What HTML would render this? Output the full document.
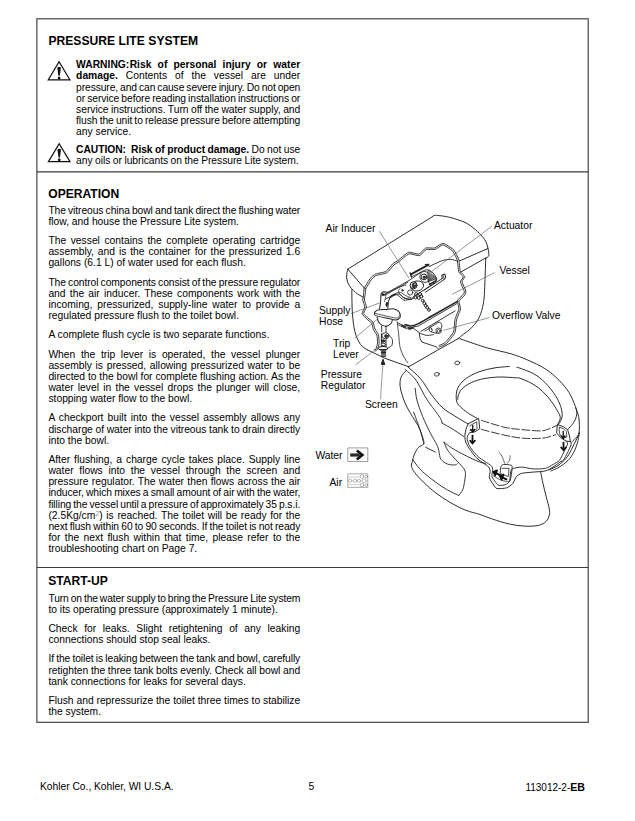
<!DOCTYPE html><html lang="en"><head><meta charset="utf-8"><title>Pressure Lite System</title><style>

html,body{margin:0;padding:0;background:#fff;}
body{width:635px;height:821px;position:relative;overflow:hidden;font-family:"Liberation Sans", Arial, Helvetica, sans-serif;color:#000;}
.l{position:absolute;white-space:nowrap;}
.l b{font-weight:bold;}
sup{font-size:7px;color:#999;vertical-align:baseline;position:relative;top:-3.2px;line-height:0;}
.bx{position:absolute;background:#555;}
svg{position:absolute;left:0;top:0;}
.sp{display:inline-block;width:0.4px;}

</style></head><body>
<svg width="635" height="821" viewBox="0 0 635 821"><g fill="none" stroke="#3c3c3c" stroke-width="1.15"><rect x="36.9" y="18.8" width="551.3" height="703.5"/><path d="M36.9 171.8H588.2M36.9 567.5H588.2"/></g></svg>
<div class="l" id="l0" style="left:48.50px;top:33.71px;font-size:12.1px;line-height:14.0px;font-weight:bold;word-spacing:0.206px;">PRESSURE LITE SYSTEM</div>
<div class="l" id="l1" style="left:48.30px;top:187.31px;font-size:12.1px;line-height:14.0px;font-weight:bold;letter-spacing:-0.011px;">OPERATION</div>
<div class="l" id="l2" style="left:48.30px;top:574.21px;font-size:12.1px;line-height:14.0px;font-weight:bold;letter-spacing:-0.010px;">START-UP</div>
<div class="l" id="l3" style="left:76.10px;top:59.33px;font-size:10.3px;line-height:12.0px;word-spacing:3.317px;"><b>WARNING:<span class="sp"></span>Risk of personal injury or water</b></div>
<div class="l" id="l4" style="left:76.10px;top:70.48px;font-size:10.3px;line-height:12.0px;word-spacing:5.105px;"><b>damage.</b> Contents of the vessel are under</div>
<div class="l" id="l5" style="left:76.10px;top:81.63px;font-size:10.3px;line-height:12.0px;word-spacing:-0.685px;letter-spacing:-0.110px;">pressure, and can cause severe injury. Do not open</div>
<div class="l" id="l6" style="left:76.10px;top:92.78px;font-size:10.3px;line-height:12.0px;word-spacing:-0.690px;letter-spacing:-0.077px;">or service before reading installation instructions or</div>
<div class="l" id="l7" style="left:76.10px;top:103.93px;font-size:10.3px;line-height:12.0px;word-spacing:-0.277px;letter-spacing:-0.037px;">service instructions. Turn off the water supply, and</div>
<div class="l" id="l8" style="left:76.10px;top:115.08px;font-size:10.3px;line-height:12.0px;word-spacing:-0.592px;letter-spacing:-0.080px;">flush the unit to release pressure before attempting</div>
<div class="l" id="l9" style="left:76.10px;top:126.23px;font-size:10.3px;line-height:12.0px;">any service.</div>
<div class="l" id="l10" style="left:76.10px;top:144.23px;font-size:10.3px;line-height:12.0px;word-spacing:-0.299px;letter-spacing:-0.054px;"><b>CAUTION:&nbsp; Risk of product damage.</b> Do not use</div>
<div class="l" id="l11" style="left:76.10px;top:155.38px;font-size:10.3px;line-height:12.0px;word-spacing:-0.295px;letter-spacing:-0.046px;">any oils or lubricants on the Pressure Lite system.</div>
<div class="l" id="l12" style="left:48.40px;top:204.73px;font-size:10.3px;line-height:12.0px;word-spacing:-0.575px;letter-spacing:-0.089px;">The vitreous china bowl and tank direct the flushing water</div>
<div class="l" id="l13" style="left:48.40px;top:215.88px;font-size:10.3px;line-height:12.0px;">flow, and house the Pressure Lite system.</div>
<div class="l" id="l14" style="left:48.40px;top:235.13px;font-size:10.3px;line-height:12.0px;word-spacing:1.709px;">The vessel contains the complete operating cartridge</div>
<div class="l" id="l15" style="left:48.40px;top:246.28px;font-size:10.3px;line-height:12.0px;word-spacing:1.020px;">assembly, and is the container for the pressurized 1.6</div>
<div class="l" id="l16" style="left:48.40px;top:257.43px;font-size:10.3px;line-height:12.0px;">gallons (6.1 L) of water used for each flush.</div>
<div class="l" id="l17" style="left:48.40px;top:276.68px;font-size:10.3px;line-height:12.0px;word-spacing:-0.616px;letter-spacing:-0.077px;">The control components consist of the pressure regulator</div>
<div class="l" id="l18" style="left:48.40px;top:287.83px;font-size:10.3px;line-height:12.0px;word-spacing:1.377px;">and the air inducer. These components work with the</div>
<div class="l" id="l19" style="left:48.40px;top:298.98px;font-size:10.3px;line-height:12.0px;word-spacing:1.998px;">incoming, pressurized, supply-line water to provide a</div>
<div class="l" id="l20" style="left:48.40px;top:310.13px;font-size:10.3px;line-height:12.0px;">regulated pressure flush to the toilet bowl.</div>
<div class="l" id="l21" style="left:48.40px;top:329.38px;font-size:10.3px;line-height:12.0px;">A complete flush cycle is two separate functions.</div>
<div class="l" id="l22" style="left:48.40px;top:348.63px;font-size:10.3px;line-height:12.0px;word-spacing:2.784px;">When the trip lever is operated, the vessel plunger</div>
<div class="l" id="l23" style="left:48.40px;top:359.78px;font-size:10.3px;line-height:12.0px;word-spacing:0.813px;">assembly is pressed, allowing pressurized water to be</div>
<div class="l" id="l24" style="left:48.40px;top:370.93px;font-size:10.3px;line-height:12.0px;word-spacing:-0.003px;">directed to the bowl for complete flushing action. As the</div>
<div class="l" id="l25" style="left:48.40px;top:382.08px;font-size:10.3px;line-height:12.0px;word-spacing:1.394px;">water level in the vessel drops the plunger will close,</div>
<div class="l" id="l26" style="left:48.40px;top:393.23px;font-size:10.3px;line-height:12.0px;">stopping water flow to the bowl.</div>
<div class="l" id="l27" style="left:48.40px;top:412.48px;font-size:10.3px;line-height:12.0px;word-spacing:1.284px;">A checkport built into the vessel assembly allows any</div>
<div class="l" id="l28" style="left:48.40px;top:423.63px;font-size:10.3px;line-height:12.0px;word-spacing:-0.161px;letter-spacing:-0.025px;">discharge of water into the vitreous tank to drain directly</div>
<div class="l" id="l29" style="left:48.40px;top:434.78px;font-size:10.3px;line-height:12.0px;">into the bowl.</div>
<div class="l" id="l30" style="left:48.40px;top:454.03px;font-size:10.3px;line-height:12.0px;word-spacing:1.067px;">After flushing, a charge cycle takes place. Supply line</div>
<div class="l" id="l31" style="left:48.40px;top:465.18px;font-size:10.3px;line-height:12.0px;word-spacing:2.856px;">water flows into the vessel through the screen and</div>
<div class="l" id="l32" style="left:48.40px;top:476.33px;font-size:10.3px;line-height:12.0px;word-spacing:0.450px;">pressure regulator. The water then flows across the air</div>
<div class="l" id="l33" style="left:48.40px;top:487.48px;font-size:10.3px;line-height:12.0px;word-spacing:-0.516px;letter-spacing:-0.089px;">inducer, which mixes a small amount of air with the water,</div>
<div class="l" id="l34" style="left:48.40px;top:498.63px;font-size:10.3px;line-height:12.0px;word-spacing:-0.638px;letter-spacing:-0.093px;">filling the vessel until a pressure of approximately 35 p.s.i.</div>
<div class="l" id="l35" style="left:48.40px;top:509.78px;font-size:10.3px;line-height:12.0px;word-spacing:0.790px;">(2.5Kg/cm<sup>2</sup>) is reached. The toilet will be ready for the</div>
<div class="l" id="l36" style="left:48.40px;top:520.93px;font-size:10.3px;line-height:12.0px;word-spacing:-0.503px;letter-spacing:-0.097px;">next flush within 60 to 90 seconds. If the toilet is not ready</div>
<div class="l" id="l37" style="left:48.40px;top:532.08px;font-size:10.3px;line-height:12.0px;word-spacing:1.541px;">for the next flush within that time, please refer to the</div>
<div class="l" id="l38" style="left:48.40px;top:543.23px;font-size:10.3px;line-height:12.0px;">troubleshooting chart on Page 7.</div>
<div class="l" id="l39" style="left:48.40px;top:592.63px;font-size:10.3px;line-height:12.0px;word-spacing:-0.726px;letter-spacing:-0.125px;">Turn on the water supply to bring the Pressure Lite system</div>
<div class="l" id="l40" style="left:48.40px;top:603.78px;font-size:10.3px;line-height:12.0px;">to its operating pressure (approximately 1 minute).</div>
<div class="l" id="l41" style="left:48.40px;top:623.03px;font-size:10.3px;line-height:12.0px;word-spacing:3.753px;">Check for leaks. Slight retightening of any leaking</div>
<div class="l" id="l42" style="left:48.40px;top:634.18px;font-size:10.3px;line-height:12.0px;">connections should stop seal leaks.</div>
<div class="l" id="l43" style="left:48.40px;top:653.43px;font-size:10.3px;line-height:12.0px;word-spacing:-0.547px;letter-spacing:-0.090px;">If the toilet is leaking between the tank and bowl, carefully</div>
<div class="l" id="l44" style="left:48.40px;top:664.58px;font-size:10.3px;line-height:12.0px;word-spacing:-0.152px;letter-spacing:-0.024px;">retighten the three tank bolts evenly. Check all bowl and</div>
<div class="l" id="l45" style="left:48.40px;top:675.73px;font-size:10.3px;line-height:12.0px;">tank connections for leaks for several days.</div>
<div class="l" id="l46" style="left:48.40px;top:694.98px;font-size:10.3px;line-height:12.0px;word-spacing:-0.002px;">Flush and repressurize the toilet three times to stabilize</div>
<div class="l" id="l47" style="left:48.40px;top:706.13px;font-size:10.3px;line-height:12.0px;">the system.</div>
<div class="l" id="l48" style="left:40.00px;top:781.33px;font-size:10.3px;line-height:12.0px;word-spacing:-0.111px;letter-spacing:-0.015px;">Kohler Co., Kohler, WI U.S.A.</div>
<div class="l" id="l49" style="left:308.60px;top:781.33px;font-size:10.3px;line-height:12.0px;">5</div>
<div class="l" id="l50" style="left:525.40px;top:781.43px;font-size:10.6px;line-height:12.0px;letter-spacing:0.002px;"><span style="font-size:10px">113012-2-</span><b>EB</b></div>
<div class="l" id="l51" style="left:325.60px;top:222.53px;font-size:10.3px;line-height:12.0px;">Air Inducer</div>
<div class="l" id="l52" style="left:494.00px;top:219.93px;font-size:10.3px;line-height:12.0px;">Actuator</div>
<div class="l" id="l53" style="left:499.50px;top:264.73px;font-size:10.3px;line-height:12.0px;">Vessel</div>
<div class="l" id="l54" style="left:492.00px;top:310.43px;font-size:10.3px;line-height:12.0px;">Overflow Valve</div>
<div class="l" id="l55" style="left:319.00px;top:305.23px;font-size:10.3px;line-height:12.0px;">Supply</div>
<div class="l" id="l56" style="left:319.00px;top:316.33px;font-size:10.3px;line-height:12.0px;">Hose</div>
<div class="l" id="l57" style="left:333.00px;top:337.93px;font-size:10.3px;line-height:12.0px;">Trip</div>
<div class="l" id="l58" style="left:333.00px;top:348.53px;font-size:10.3px;line-height:12.0px;">Lever</div>
<div class="l" id="l59" style="left:320.80px;top:369.33px;font-size:10.3px;line-height:12.0px;">Pressure</div>
<div class="l" id="l60" style="left:320.80px;top:380.13px;font-size:10.3px;line-height:12.0px;">Regulator</div>
<div class="l" id="l61" style="left:365.00px;top:399.23px;font-size:10.3px;line-height:12.0px;">Screen</div>
<div class="l" id="l62" style="left:315.40px;top:450.43px;font-size:10.3px;line-height:12.0px;">Water</div>
<div class="l" id="l63" style="left:329.50px;top:476.93px;font-size:10.3px;line-height:12.0px;">Air</div>
<svg width="635" height="821" viewBox="0 0 635 821" stroke-linecap="round" stroke-linejoin="round">
<path d="M347.8 269.1 L432.6 216.6" fill="none" stroke="#222" stroke-width="0.95" />
<path d="M432.6 216.6 C433 216.4 432.9 215.2 435.5 215.3 C438.1 215.4 445.2 216.2 449.6 217.3 C454 218.4 461.3 220.7 465 222.4 C468.7 224.1 471.6 226.6 474 228.5 C476.4 230.4 479.1 233.1 480.9 235 C482.7 236.9 484.6 239.3 485.7 241.3 C486.8 243.3 487.5 246.3 488 248.4 C488.5 250.5 489.1 254 488.8 255.5 C488.5 257 486.2 258.1 485.7 258.6" fill="none" stroke="#222" stroke-width="0.95" />
<path d="M347.8 269.1 L364.2 288" fill="none" stroke="#222" stroke-width="0.95" />
<path d="M347.8 269.1 C347.6 270.4 346.4 274.4 346.6 277 C346.8 279.6 347.5 282.4 349 285 C350.5 287.6 353.1 290.4 355.5 292.5 C357.9 294.6 362.2 296.5 363.5 297.3" fill="none" stroke="#222" stroke-width="0.95" />
<path d="M459.4 261 L488 248.4" fill="none" stroke="#222" stroke-width="0.95" />
<path d="M460.8 272 L486.4 257.6" fill="none" stroke="#222" stroke-width="0.95" />
<path d="M351.8 290 C351.9 293.8 351.9 306 352.4 313 C352.9 320 353.6 326.6 355 331.9 C356.4 337.1 358.4 341.5 360.5 344.5 C362.6 347.5 366.2 348.9 367.3 349.8" fill="none" stroke="#222" stroke-width="0.95" />
<path d="M367.3 349.8 L385 358.3 L408.7 366.8" fill="none" stroke="#222" stroke-width="0.95" />
<path d="M408.7 366.8 L437.3 350.3 L458.5 338.5" fill="none" stroke="#222" stroke-width="0.95" />
<path d="M485.7 258.6 C485.6 262.5 485.2 275.6 484.9 282.2 C484.6 288.8 484.6 293.3 484.1 298 C483.6 302.7 482.8 306.9 481.7 310.6 C480.6 314.3 479.5 317.1 477.8 320 C476.1 322.9 473.9 325.5 471.5 327.9 C469.1 330.3 465.8 332.5 463.6 334.2 C461.4 335.9 459.4 337.6 458.5 338.3" fill="none" stroke="#222" stroke-width="0.95" />
<path d="M364.2 288 C364.7 287.2 369.4 279.5 370.4 278.3 C371.3 277.1 374.3 274.6 375.6 274 C376.9 273.4 384.6 272.3 386 271.4 C387.4 270.5 392 264.5 392.9 263.6 C393.8 262.7 395.9 261.9 397.2 261 C398.5 260.1 406.7 252.9 408.5 252.3 C410.3 251.7 417.5 254.5 418.9 254.1 C420.3 253.7 424.5 248.5 425.8 248 C427.1 247.5 433.1 248.4 434.5 248 C435.9 247.6 441.5 243.2 443.1 243.3 C444.7 243.4 452.2 248.4 453.5 249.7 C454.8 251 458.1 257.5 458.7 259.3 C459.3 261.1 459.8 270 460.3 271.4 C460.8 272.8 464.7 275.7 464.8 276.6 C464.9 277.5 461.9 280.6 462 281.8 C462.1 283 465.7 289.9 465.9 291 C466.1 292.1 465 294.8 464.4 295.6 C463.8 296.4 459.2 300 458.9 301.1 C458.6 302.2 460.7 307.4 460.5 309 C460.3 310.6 457 318 456.5 320 C456 322 455.9 330.6 455 332.6 C454.1 334.6 447.6 342.5 446.3 343.7 C445 344.9 440.1 346.7 439.5 347" fill="none" stroke="#222" stroke-width="0.9" />
<path d="M365.5 288.9 C366.1 288.1 370.7 280.4 371.6 279.3 C372.5 278.2 375 276 376.2 275.5 C377.5 274.9 385.3 273.7 386.8 272.8 C388.3 271.9 393 265.6 394 264.8 C394.9 263.9 396.9 263.2 398.1 262.3 C399.4 261.4 407.2 254.4 409 253.8 C410.7 253.3 417.8 256 419.3 255.7 C420.7 255.3 425.1 250 426.4 249.5 C427.7 249 433.5 249.9 434.9 249.5 C436.3 249.2 441.5 244.8 443 244.9 C444.4 245 451.2 249.6 452.4 250.8 C453.5 252.1 456.6 258 457.2 259.8 C457.7 261.5 458.3 270.5 458.8 271.9 C459.3 273.4 463.1 276 463.2 276.9 C463.4 277.7 460.3 280.7 460.4 281.9 C460.5 283.1 464.1 290.2 464.3 291.3 C464.5 292.3 463.7 293.9 463.1 294.7 C462.5 295.5 457.7 299.5 457.4 300.7 C457 301.8 459.1 307.2 458.9 308.8 C458.7 310.4 455.4 317.7 454.9 319.6 C454.5 321.6 454.3 330.1 453.5 332 C452.7 333.9 446.4 341.4 445.2 342.5 C444 343.7 439.3 345.3 438.8 345.6" fill="none" stroke="#222" stroke-width="0.9" />
<path d="M364.2 288 C364.1 288.7 363.6 293.7 363.5 294.9 C363.4 296.1 362.7 299 362.8 300.2 C362.9 301.4 364.9 305.6 364.8 306.9 C364.7 308.2 361.9 312.4 362.1 313.6 C362.3 314.8 365.9 318.1 366.8 319 C367.7 319.9 370.8 321.9 371.5 323 C372.2 324.1 373 328.5 373.5 329.7 C374 330.9 376.5 333.8 376.9 335.1 C377.3 336.4 377.6 341.8 377.5 343.1 C377.4 344.4 376.5 347.8 376.2 348.5 C375.9 349.2 374.4 349.7 374.2 349.8" fill="none" stroke="#222" stroke-width="0.9" />
<path d="M365.8 288.2 C365.7 288.9 365.2 293.9 365.1 295.1 C364.9 296.3 364.3 298.8 364.4 300 C364.5 301.2 366.5 305.7 366.4 307 C366.3 308.3 363.5 312.3 363.7 313.3 C363.8 314.4 367 317 367.9 317.9 C368.8 318.7 372.2 321 372.9 322.2 C373.6 323.3 374.4 327.8 375 329 C375.5 330.3 378 333.2 378.4 334.6 C378.8 336.1 379.2 341.7 379.1 343.2 C379 344.6 378 348.4 377.6 349.2 C377.2 350 375.3 350.9 375.1 351.1" fill="none" stroke="#222" stroke-width="0.9" />
<path d="M412.1 327.4 L419.2 332.6 L420.1 338.8 L422 342.1 L436.2 346.8 L438.5 349" fill="none" stroke="#222" stroke-width="0.9" />
<path d="M397.2 322 C397.4 323.9 398.1 329.5 398.6 333.7 C399.1 337.9 399.2 343.5 400.1 347.4 C401 351.3 402.7 354.5 404 357.1 C405.3 359.7 407.2 362 407.9 363" fill="none" stroke="#222" stroke-width="0.78" />
<path d="M429 266.6 C431.1 265.7 438 262.1 441.6 260.9 C445.2 259.7 447.8 259.4 450.4 259.4 C453 259.4 455.9 260.7 457 261" fill="none" stroke="#222" stroke-width="0.9" />
<path d="M405 324.6 C405.7 324.8 409.3 326.1 410.7 326 C412.1 325.9 415 325.2 417.3 324.1 C419.6 323.1 428.5 317.8 430 317" fill="none" stroke="#222" stroke-width="1.46" />
<path d="M430 317 L457.5 301.4" fill="none" stroke="#222" stroke-width="1.46" />
<path d="M412.1 327.4 L418.2 326 L456.5 303.8" fill="none" stroke="#222" stroke-width="0.9" />
<path d="M421.1 331.2 L455.1 310.9" fill="none" stroke="#222" stroke-width="0.9" />
<path d="M397.2 322.5 C398.3 323.1 401.7 325 404 325.9 C406.3 326.8 409 327.9 410.8 327.9 C412.6 327.9 414.3 326.2 415 325.9" fill="none" stroke="#222" stroke-width="0.9" />
<path d="M398 324.5 C399 325 401.9 326.8 404 327.7 C406.1 328.6 409.4 329.3 410.5 329.6" fill="none" stroke="#222" stroke-width="0.78" />
<path d="M402 325.5 L405 327" fill="none" stroke="#222" stroke-width="1.79" />
<path d="M409 328.3 L412 328.2" fill="none" stroke="#222" stroke-width="1.79" />
<path d="M436.2 323.3 C436.8 323.1 439 321.8 440 322.2 C440.9 322.6 441.6 324.5 441.9 325.5 C442.1 326.5 441.4 327.9 441.3 328.4" fill="none" stroke="#222" stroke-width="0.9" />
<path d="M430 327.4 L436.4 323.6" fill="none" stroke="#222" stroke-width="0.9" />
<path d="M431.3 331.8 L436.9 333.5" fill="none" stroke="#222" stroke-width="0.9" />
<ellipse cx="430.5" cy="329.5" rx="1.4" ry="2.4" fill="#fff" stroke="#222" stroke-width="0.8" transform="rotate(-20 430.5 329.5)"/>
<circle cx="438.6" cy="330.7" r="2.7" fill="#fff" stroke="#222" stroke-width="0.9"/>
<circle cx="438.7" cy="330.9" r="1.4" fill="#fff" stroke="#222" stroke-width="0.7"/>
<path d="M424.8 330.7 L430 328.4" fill="none" stroke="#222" stroke-width="0.78" />
<path d="M419.7 333.1 C420.8 333.5 424.5 335.2 426.7 335.4 C429 335.7 432.3 334.7 433.4 334.5" fill="none" stroke="#222" stroke-width="0.9" />
<path d="M382 295.9 C383.3 295.2 392.2 290 395 288.4 C397.8 286.8 407.6 281.4 410.2 279.7 C412.8 278.1 419.4 273.1 421 272.1 C422.6 271.1 425.2 269.8 426.2 269.7 C427.1 269.6 429.6 270.2 430.5 270.8 C431.4 271.4 434.2 274.8 434.8 275.6 C435.5 276.4 436.6 278.6 436.7 278.9" fill="none" stroke="#222" stroke-width="0.9" />
<path d="M384.6 295.5 L395 289.6 L408 282.2" fill="none" stroke="#222" stroke-width="0.78" />
<path d="M436.7 278.9 C436.6 279.2 436.5 281 435.7 281.8 C434.9 282.7 431.1 285 429.6 286 C428.2 287 425.5 289.1 423.6 290.3 C421.7 291.5 415 295.4 413.6 296.4 C412.2 297.4 412.6 298.6 411.5 299 C410.3 299.4 405.4 300.5 403.7 300 C401.9 299.5 398.3 294.9 396.7 294.6 C395.1 294.4 390.6 297.7 389.8 298.1" fill="none" stroke="#222" stroke-width="0.9" />
<path d="M400.2 288.6 C399.9 288.9 398.5 289.5 398.5 290.5 C398.5 291.5 399.2 293.4 400.2 294.6 C401.2 295.9 402.7 297.6 404.5 298.1 C406.3 298.7 409.9 298 411 297.9" fill="none" stroke="#222" stroke-width="0.78" />
<path d="M395 294 L385.5 299.2" fill="none" stroke="#222" stroke-width="0.9" />
<ellipse cx="417.1" cy="286" rx="6.6" ry="5" fill="none" stroke="#222" stroke-width="0.9" transform="rotate(-12 417.1 286)"/>
<circle cx="413.6" cy="285.3" r="3.5" fill="#fff" stroke="#222" stroke-width="1.0"/>
<ellipse cx="413.9" cy="285.6" rx="1.9" ry="2.6" fill="#333" stroke="#222" stroke-width="0.6"/>
<circle cx="415.1" cy="284.3" r="1" fill="#fff" stroke="#222" stroke-width="0.5"/>
<circle cx="410.2" cy="292.5" r="2.6" fill="#fff" stroke="#222" stroke-width="0.8"/>
<circle cx="402.4" cy="290.3" r="0.9" fill="#222" stroke="#222" stroke-width="0.5"/>
<ellipse cx="424.9" cy="276.9" rx="4.9" ry="5.6" fill="none" stroke="#222" stroke-width="0.8" transform="rotate(-20 424.9 276.9)"/>
<circle cx="424" cy="276.9" r="2.9" fill="#fff" stroke="#222" stroke-width="1.0"/>
<circle cx="424.3" cy="277.3" r="1.4" fill="#333" stroke="#222" stroke-width="0.5"/>
<path d="M428.3 270.6 L433.1 273 L436.2 277.3 L435.7 280.8 L429.8 284.4 L427.9 280.1Z" fill="#fff" stroke="#222" stroke-width="0.78" />
<path d="M429 272.1 L428.4 281.7" fill="none" stroke="#222" stroke-width="0.84" />
<path d="M430.1 273 L429.5 281.3" fill="none" stroke="#222" stroke-width="0.84" />
<path d="M431.2 273.9 L430.5 281" fill="none" stroke="#222" stroke-width="0.84" />
<path d="M432.3 274.7 L431.6 280.6" fill="none" stroke="#222" stroke-width="0.84" />
<path d="M433.5 275.6 L432.6 280.3" fill="none" stroke="#222" stroke-width="0.84" />
<path d="M434.6 276.5 L433.6 279.9" fill="none" stroke="#222" stroke-width="0.84" />
<path d="M435.7 277.3 L434.7 279.6" fill="none" stroke="#222" stroke-width="0.84" />
<path d="M429.6 284.4 L435.7 280.8" fill="none" stroke="#222" stroke-width="1.34" />
<path d="M410.8 274.4 L428.3 264.9" fill="none" stroke="#222" stroke-width="1.79" />
<path d="M410.2 273 L411.5 277" fill="none" stroke="#222" stroke-width="1.34" />
<path d="M425.3 264.5 L429 264.3" fill="none" stroke="#222" stroke-width="1.12" />
<path d="M412 276.6 L421 272.1" fill="none" stroke="#222" stroke-width="0.78" />
<path d="M423.6 290.5 L442.2 278.6" fill="none" stroke="#222" stroke-width="0.95" />
<path d="M425.5 292.2 L443.9 279.7" fill="none" stroke="#222" stroke-width="0.95" />
<path d="M442.2 278.6 L441.8 275.2 L444.7 273.9 L445.8 277.3 L443.9 279.7" fill="none" stroke="#222" stroke-width="1.01" />
<path d="M443.2 275.6 L444 278.4" fill="none" stroke="#222" stroke-width="0.78" />
<circle cx="416.2" cy="294.2" r="1.6" fill="none" stroke="#222" stroke-width="0.95"/>
<circle cx="420.1" cy="294.2" r="1.6" fill="none" stroke="#222" stroke-width="0.95"/>
<circle cx="415.4" cy="297.4" r="1.6" fill="none" stroke="#222" stroke-width="0.95"/>
<circle cx="418.8" cy="297.8" r="1.6" fill="none" stroke="#222" stroke-width="0.95"/>
<circle cx="421.2" cy="296.4" r="1.6" fill="none" stroke="#222" stroke-width="0.95"/>
<circle cx="422.7" cy="300.7" r="1.4" fill="none" stroke="#222" stroke-width="0.95"/>
<circle cx="424.4" cy="303.3" r="1.4" fill="none" stroke="#222" stroke-width="0.95"/>
<circle cx="425.7" cy="305.7" r="1.4" fill="none" stroke="#222" stroke-width="0.95"/>
<circle cx="427.2" cy="307.8" r="1.4" fill="none" stroke="#222" stroke-width="0.95"/>
<circle cx="429" cy="309.9" r="1.4" fill="none" stroke="#222" stroke-width="0.95"/>
<path d="M388.4 292.3 C387.6 292.2 384.7 291.5 383.5 291.8 C382.3 292.1 381.6 292.3 381.1 294 C380.6 295.6 380.8 299.1 380.6 301.6 C380.4 304 379.8 307.4 379.6 308.6" fill="none" stroke="#222" stroke-width="1.01" />
<path d="M394.2 294.3 C393.8 294.5 392.3 294.7 391.3 295.9 C390.3 297.1 389 299.5 388.4 301.6 C387.8 303.6 388 307.1 387.9 308.2" fill="none" stroke="#222" stroke-width="1.01" />
<path d="M383.5 291.8 C383.9 292.3 385.8 293.1 386 294.7 C386.1 296.4 384.7 300.4 384.5 301.6" fill="none" stroke="#222" stroke-width="0.67" />
<path d="M386.9 303 L386.6 306" fill="none" stroke="#222" stroke-width="1.68" />
<path d="M385.8 304.3 L387 302.5 L388 304.5" fill="none" stroke="#222" stroke-width="1.01" />
<circle cx="383" cy="294.6" r="1.1" fill="#333" stroke="#222" stroke-width="0.6"/>
<path d="M388.4 292.3 C389.9 291.6 394.2 289.1 397.2 287.9 C400.1 286.7 404.5 285.5 405.9 285" fill="none" stroke="#222" stroke-width="0.9" />
<path d="M391.3 295.9 C392.6 295.6 397 293.7 399.1 294 C401.2 294.3 402 296.7 404 297.7 C405.9 298.6 409 299.8 410.8 299.6 C412.6 299.5 414.3 297.2 415 296.7" fill="none" stroke="#222" stroke-width="0.9" />
<path d="M394.2 294.3 C395.2 293.9 398.1 292.1 400.1 292.3 C402 292.6 404.1 294.8 405.9 295.7 C407.7 296.6 410 297.3 410.8 297.7" fill="none" stroke="#222" stroke-width="0.78" />
<path d="M374.7 312.3 C375.1 312 376.2 310.2 377.7 309.9 C379.2 309.5 383.7 309.5 386 309.4 C388.2 309.2 392.6 308.6 394.2 308.9 C395.9 309.1 397.8 310.6 398.6 311.3 C399.4 312 399.9 313.8 400.1 314.2" fill="none" stroke="#222" stroke-width="1.01" />
<path d="M374.7 312.3 C374.8 312.6 374.1 314.8 375.2 315.4 C376.4 316 383.9 317.5 386 317.9 C388.1 318.4 394.8 320.1 396.2 320.1 C397.6 320 399.7 317.9 400.1 317.4 C400.5 316.8 400.1 314.6 400.1 314.2" fill="none" stroke="#222" stroke-width="1.01" />
<path d="M375.5 313.5 C376.6 313.7 383.8 315.5 386 316 C388.1 316.5 395.3 318.2 396.7 318.1 C398.1 318.1 399.6 315.7 399.9 315.4" fill="none" stroke="#222" stroke-width="0.78" />
<path d="M377.2 317.2 C377.4 318 377.8 320.7 378.6 322 C379.5 323.4 381.1 324.8 382.5 325.4 C384 326.1 386 326.3 387.4 325.9 C388.9 325.5 390.5 324 391.3 323 C392.1 322 392.1 320.6 392.3 320.1" fill="none" stroke="#222" stroke-width="1.01" />
<path d="M381.6 325.9 L381.8 331.8" fill="none" stroke="#222" stroke-width="0.9" />
<path d="M386 326.1 L386 331.8" fill="none" stroke="#222" stroke-width="0.9" />
<ellipse cx="385.5" cy="335.7" rx="3.6" ry="3" fill="#fff" stroke="#222" stroke-width="0.9"/>
<circle cx="386.1" cy="336.1" r="1.6" fill="#333" stroke="#222" stroke-width="0.6"/>
<path d="M389.4 335.7 C389.9 336.3 391.9 338 392.3 339.6 C392.7 341.2 392.6 344 391.8 345.4 C391 346.9 388.1 347.9 387.4 348.4" fill="none" stroke="#222" stroke-width="0.9" />
<path d="M381.4 333.7 L381.4 347.4" fill="none" stroke="#222" stroke-width="1.01" />
<path d="M386 339.6 L386 347.4" fill="none" stroke="#222" stroke-width="1.01" />
<ellipse cx="383.3" cy="341" rx="1.7" ry="1.3" fill="#333" stroke="#222" stroke-width="0.8"/>
<ellipse cx="383.5" cy="344.5" rx="2.3" ry="1.2" fill="#fff" stroke="#222" stroke-width="0.8"/>
<ellipse cx="383" cy="348.4" rx="4.6" ry="1.9" fill="#fff" stroke="#222" stroke-width="1.0"/>
<path d="M379.4 349.5 L386.9 349.5" fill="none" stroke="#222" stroke-width="1.12" />
<path d="M381.4 351.3 L385.7 351.3" fill="none" stroke="#222" stroke-width="1.01" />
<path d="M381.4 352.5 L385.7 352.5" fill="none" stroke="#222" stroke-width="1.01" />
<path d="M381.4 353.8 L385.7 353.8" fill="none" stroke="#222" stroke-width="1.01" />
<path d="M381.4 355.1 L385.7 355.1" fill="none" stroke="#222" stroke-width="1.01" />
<path d="M381.4 356.3 L385.7 356.3" fill="none" stroke="#222" stroke-width="1.01" />
<path d="M380.7 399 C380.8 396.7 381 390.9 381.4 385 C381.8 379.1 382.7 367.1 383 363.5" fill="none" stroke="#555" stroke-width="0.62" />
<path d="M381.3 364.2 L383 359.2 L384.7 364.4Z" fill="#222" stroke="#222" stroke-width="1.01" />
<path d="M379.5 231.5 L408.8 278" fill="none" stroke="#555" stroke-width="0.62" />
<path d="M431.5 271.6 L491.5 226.5" fill="none" stroke="#555" stroke-width="0.62" />
<path d="M452.6 294 L494.3 272.8" fill="none" stroke="#555" stroke-width="0.62" />
<path d="M443.9 330.3 L488.8 317.7" fill="none" stroke="#555" stroke-width="0.62" />
<path d="M351 313.6 L380.5 302.6" fill="none" stroke="#555" stroke-width="0.62" />
<path d="M355 338 L378 318.6" fill="none" stroke="#555" stroke-width="0.62" />
<path d="M356 364.5 L379.5 346.5" fill="none" stroke="#555" stroke-width="0.62" />
<path d="M458.5 338.5 C459.4 338.8 458.8 338.4 463.6 340 C468.4 341.6 479.3 345.6 487.2 347.9 C495.1 350.2 504.2 351.8 510.9 353.8 C517.6 355.8 521.9 357.5 527.6 360 C533.3 362.5 540 365.4 545.2 368.8 C550.4 372.2 555 376.2 559 380.2 C563 384.2 566.4 388.3 569.1 392.7 C571.8 397.1 574.1 403 575.4 406.6 C576.7 410.2 576.9 411.7 576.7 414.2 C576.5 416.7 575.5 419.4 574.2 421.7 C572.9 424 570.2 426.7 569.1 428 C568 429.3 567.9 429.4 567.6 429.7" fill="none" stroke="#222" stroke-width="0.95" />
<path d="M579.4 432.8 C579.1 434.5 578.4 439.7 577.4 443 C576.4 446.3 575.2 449.6 573.6 452.5 C572 455.4 570.4 458.1 568 460.5 C565.6 462.9 562.3 465.2 559.5 467 C556.7 468.8 552.4 470.3 551 471" fill="none" stroke="#222" stroke-width="0.9" />
<path d="M575.6 407.5 C576.1 409 578 413.3 578.6 416.3 C579.2 419.3 579.4 422.7 579.4 425.7 C579.4 428.7 579.4 431.5 578.6 434.4 C577.8 437.3 575.9 440.4 574.6 443.1 C573.3 445.9 572.1 448.3 570.7 450.9 C569.3 453.5 568.1 456.1 566 458.5 C563.9 460.9 560.8 463.6 558 465.5 C555.2 467.4 550.5 469.2 549 470" fill="none" stroke="#222" stroke-width="0.95" />
<path d="M571.5 442.3 C572.4 441.4 575.7 438.4 577 436.8 C578.3 435.2 579 433.5 579.4 432.8" fill="none" stroke="#222" stroke-width="0.9" />
<path d="M477.4 418.3 C475.9 417.5 471.7 415.6 468.7 413.5 C465.7 411.4 461.4 408.1 459.3 405.7 C457.2 403.3 456.6 402.3 456.3 399.4 C456 396.5 456.1 391.7 457.7 388.3 C459.2 384.9 462.1 381.6 465.6 378.9 C469.1 376.2 474 373.7 478.7 371.9 C483.4 370.1 488.9 368.9 494 368 C499.1 367.1 506.9 366.7 509.5 366.4" fill="none" stroke="#222" stroke-width="0.95" />
<path d="M516.8 367.4 C517.3 367.5 517.1 367.1 520 368.2 C522.9 369.3 529.7 371.5 533.9 373.9 C538.1 376.3 541.6 379.1 545.2 382.7 C548.8 386.3 552.8 391.5 555.3 395.3 C557.8 399.1 559.1 402.2 560.3 405.3 C561.4 408.4 562.1 411.7 562.2 414.2 C562.3 416.7 561.6 418.7 560.9 420.5 C560.2 422.3 558.3 424.2 557.8 424.9" fill="none" stroke="#222" stroke-width="0.95" />
<path d="M457.7 399.4 C457.9 398.6 457.9 396.3 458.6 394.5 C459.3 392.7 459.9 390.8 462 388.8 C464.1 386.8 467.8 384.2 471.5 382.5 C475.2 380.8 479.4 379.5 484.1 378.6 C488.8 377.7 494.6 377.1 499.8 377 C505.1 376.9 512.2 377.6 515.6 377.8 C519 378 517.2 377.3 520 378.3 C522.8 379.3 528.8 381.7 532.6 383.9 C536.4 386.1 539.6 388.6 542.7 391.5 C545.9 394.4 549 398.2 551.5 401.6 C554 405 556.3 408.9 557.8 411.6 C559.3 414.3 560.3 415.8 560.3 417.9 C560.3 420 558.2 423.1 557.8 424.2" fill="none" stroke="#222" stroke-width="0.95" />
<ellipse cx="457.3" cy="362.9" rx="2.5" ry="1.8" fill="#fff" stroke="#222" stroke-width="0.8" transform="rotate(-10 457.3 362.9)"/>
<ellipse cx="436.9" cy="374.3" rx="2.5" ry="1.8" fill="#fff" stroke="#222" stroke-width="0.8" transform="rotate(-10 436.9 374.3)"/>
<path d="M408.1 367.1 C410.2 369.1 416.9 374.4 420.7 378.9 C424.5 383.4 427.3 389.2 430.9 393.9 C434.4 398.6 438.1 403.5 442 407.2 C445.9 410.9 450.3 413.1 454.6 415.9 C458.9 418.7 465.8 422.6 468 423.9" fill="none" stroke="#222" stroke-width="0.95" />
<path d="M405 369.4 C406 370.2 409 372.5 411 374.5 C413 376.5 415.1 378.7 416.8 381.3 C418.6 383.9 419.7 386.6 421.5 389.9 C423.3 393.2 425.2 397 427.8 400.9 C430.4 404.8 435 410.4 437.2 413.5 C439.4 416.6 440.4 418.2 441.2 419.8 C442 421.4 441.9 422.5 442 423" fill="none" stroke="#222" stroke-width="0.9" />
<path d="M442 423 C443.8 424.1 449.4 427.1 453 429.3 C456.6 431.6 461.9 435.3 463.7 436.5" fill="none" stroke="#222" stroke-width="0.9" />
<path d="M415.2 388.3 C415.5 390.2 415.7 395.3 416.9 400 C418.1 404.7 420.4 410.9 422.6 416.4 C424.8 421.8 427.8 427.9 430.2 432.7 C432.6 437.5 435.6 442.1 437.1 445.3 C438.6 448.5 438.4 449.3 439 451.6 C439.6 453.9 439.4 457.1 440.9 459.2 C442.4 461.3 445.4 463.2 447.8 464.2 C450.2 465.1 453.7 465 455.3 464.9 C456.9 464.8 456.9 463.8 457.2 463.6" fill="none" stroke="#222" stroke-width="0.9" />
<path d="M405.7 371 C404.9 372.1 401.9 374.7 401 377.3 C400.1 379.9 399.7 382.9 400.2 386.8 C400.7 390.7 402.5 396.4 404.2 400.9 C405.9 405.3 408.1 409.3 410.5 413.5 C412.9 417.7 416.2 421.9 418.3 426.1 C420.4 430.3 422.2 435.7 423.1 438.7 C424 441.7 424.2 442.8 423.5 444.2 C422.8 445.6 420.1 445.7 418.6 447.3 C417.1 448.9 415.8 451.2 414.7 453.6 C413.6 456 412.8 459.4 412.3 461.5 C411.8 463.6 411.1 464.4 411.5 466.2 C411.9 468 412.7 469.9 414.7 472.5 C416.7 475.1 419.8 478.6 423.3 482 C426.8 485.4 431.4 489.6 435.9 493 C440.4 496.4 445.1 499.5 450.1 502.4 C455.1 505.3 460.9 508.3 465.9 510.3 C470.9 512.3 475.6 513 480 514.5 C484.4 516 487.9 517.6 492.6 519.1 C497.3 520.6 503.1 522.6 508.3 523.8 C513.5 525 519.1 525.8 524.1 526.1 C529.1 526.4 534.6 526.2 538.3 525.4 C542 524.6 544.3 523.1 546.1 521.4 C547.9 519.7 548.8 517.2 549.3 515.1 C549.8 513 549.8 512 549.3 508.8 C548.8 505.6 547.1 500.4 546.1 496.2 C545.1 492 543.9 487.7 543 483.6 C542.1 479.5 541 473.8 540.6 471.8" fill="none" stroke="#222" stroke-width="0.95" />
<path d="M413.6 412 C414.7 414.9 418.2 424.1 419.9 429.3 C421.6 434.6 423.2 441.1 423.9 443.5" fill="none" stroke="#222" stroke-width="0.9" />
<path d="M425.7 447.3 L435.2 452" fill="none" stroke="#222" stroke-width="0.9" />
<path d="M444 442.2 C445.3 443.1 448.5 445.9 451.6 447.9 C454.8 449.9 459.3 452.3 462.9 454.2 C466.5 456.1 470.1 457.8 473 459.2 C475.9 460.6 478.4 461.6 480.5 462.3 C482.6 463 484.8 463.2 485.6 463.4" fill="none" stroke="#222" stroke-width="0.9" />
<path d="M444 442.2 C444.6 443.6 445.9 447.6 447.8 450.4 C449.7 453.2 452.8 456.4 455.3 459.2 C457.8 462 461.2 465.2 462.9 467.4 C464.6 469.6 465.1 470.3 465.4 472.4 C465.7 474.5 465.2 477.1 464.8 480 C464.4 482.9 463.7 487.2 462.7 489.8 C461.7 492.4 459.4 494.5 458.8 495.4" fill="none" stroke="#222" stroke-width="0.9" />
<path d="M413.1 459.9 C414.3 461.5 417.2 466.2 420.2 469.4 C423.2 472.5 427.5 475.9 431.2 478.8 C434.9 481.7 438.8 484.5 442.2 486.7 C445.6 488.9 448.9 490.8 451.7 492.2 C454.5 493.6 457.6 494.9 458.8 495.4" fill="none" stroke="#222" stroke-width="0.9" />
<path d="M468 423.9 C467.7 424.6 466.4 427.7 466 429.4 C465.6 431.1 464.8 434.7 464.8 436.5 C464.8 438.3 465.2 440.9 466 442.8 C466.8 444.7 469.1 448.4 470.6 450.5 C472.1 452.6 475.2 456.6 476.9 458.3 C478.6 460 481.6 461.9 483.2 463.1 C484.8 464.3 487.9 465.9 488.8 467 C489.7 468.1 490 470.1 490.1 471.5 C490.2 472.9 488.9 476 489.4 477.8 C489.9 479.6 492.9 483.9 493.9 485.3 C494.9 486.7 495.3 488.2 497 488.5 C498.7 488.8 504.3 488.6 506.4 487.9 C508.5 487.2 511.4 485 512.7 483.5 C514 482 515.3 477.8 516.5 476.5 C517.7 475.2 519.4 474 521.6 473.4 C523.8 472.8 529.7 472.4 532.9 472.1 C536.1 471.8 542.8 471.6 545.5 470.9 C548.2 470.2 551.1 468.3 553 467.1 C554.9 465.9 558.6 462.9 560 462 C561.4 461.1 562.6 461.3 563.6 460 C564.6 458.7 566.6 454.6 567.6 452.5 C568.6 450.4 570.7 446.1 571.1 444.6 C571.5 443.1 570.4 441.9 570.3 441.5" fill="none" stroke="#222" stroke-width="0.95" />
<path d="M470 432.6 C469.7 433 468 434.8 467.6 435.7 C467.2 436.6 467 438.4 467.2 439.6 C467.4 440.8 468.1 442.9 468.8 444.4 C469.5 445.9 471.2 448.8 472.5 450.5 C473.8 452.2 476.8 455.5 478.5 457 C480.2 458.5 483.3 460.3 485 461.5 C486.7 462.7 490.5 464.9 491.5 466 C492.5 467.1 492.5 468.2 492.6 469.6 C492.7 471 491.6 474.8 492 476.5 C492.4 478.2 494.9 481.3 495.8 482.5 C496.7 483.7 497.6 485 498.9 485.3 C500.2 485.6 503.8 485.3 505.2 484.7 C506.6 484.1 508.8 482.9 509.6 480.9 C510.4 478.9 509.9 471.4 511.5 469.6 C513.1 467.8 518.7 467.2 521.6 467.1 C524.5 467 529.7 468.7 532.9 468.9 C536.1 469.1 542.8 468.9 545.5 468.3 C548.2 467.7 551.1 465.6 553 464.5 C554.9 463.4 558.2 461.8 559.7 460 C561.2 458.2 563.3 453 564.4 450.9 C565.5 448.8 567.4 445.2 567.6 443.9 C567.8 442.6 566.2 441.5 566 441.1" fill="none" stroke="#222" stroke-width="0.9" />
<path d="M468 423.9 L478.6 418.4 L479.8 428.6 L475.1 431.8 L470 432.6" fill="none" stroke="#222" stroke-width="0.95" />
<path d="M469.6 425.9 L476.7 421.9 L477 428.6 L474.3 430.6 L470 430.2" fill="none" stroke="#222" stroke-width="0.78" />
<path d="M472.7 425.5 L472.7 430.3" fill="none" stroke="#111" stroke-width="1.34" />
<path d="M471 429.7 L472.7 431.7 L474.4 429.7" fill="none" stroke="#111" stroke-width="1.68" stroke-linejoin="miter"/>
<path d="M472.5 435.6 L472.5 441.2" fill="none" stroke="#111" stroke-width="1.79" />
<path d="M470.1 440.6 L472.5 443.4 L474.9 440.6" fill="none" stroke="#111" stroke-width="1.68" stroke-linejoin="miter"/>
<path d="M557.7 424.6 L563.6 426.9 L567.6 429.7 L569.5 436 L570.3 441.5 L566 441.1 L560.5 437.6 L556.9 433.2Z" fill="none" stroke="#222" stroke-width="0.95" />
<path d="M559.6 427.3 L563.6 428.9 L566.4 431.7 L566.8 436.8 L563.6 438.3 L560.1 435.2 L559.3 431.3Z" fill="none" stroke="#222" stroke-width="0.78" />
<path d="M563.2 431.5 L563.2 436.8" fill="none" stroke="#111" stroke-width="1.34" />
<path d="M561.5 436.2 L563.2 438.2 L564.9 436.2" fill="none" stroke="#111" stroke-width="1.68" stroke-linejoin="miter"/>
<path d="M563.5 442.6 L563.5 448" fill="none" stroke="#111" stroke-width="1.79" />
<path d="M561.1 447.4 L563.5 450.2 L565.9 447.4" fill="none" stroke="#111" stroke-width="1.68" stroke-linejoin="miter"/>
<path d="M481.4 420.4 C485.3 421.6 498.2 425.9 505 427.4 C511.8 428.9 516.2 429 522 429.6 C527.8 430.2 535.7 430.9 540 430.9 C544.3 430.8 545.1 430.2 547.9 429.3 C550.7 428.4 555.4 426 556.9 425.4" fill="none" stroke="#222" stroke-width="0.9" stroke-dasharray="8 2.4"/>
<path d="M481.4 429.4 C485.3 430.4 498.1 433.8 505 435.3 C511.9 436.8 517.2 437.7 523 438.2 C528.8 438.7 535.9 438.5 540 438.3 C544.1 438.1 545.3 437.8 547.9 437.2 C550.5 436.6 554.4 435.2 555.7 434.8" fill="none" stroke="#222" stroke-width="0.9" stroke-dasharray="8 2.4"/>
<path d="M500.2 474 C500.3 472.9 500.3 468.7 500.8 467.1 C501.3 465.5 501.6 464.9 503.3 464.6 C505 464.3 509.4 464.6 510.9 465.2 C512.4 465.8 512.2 465.8 512.1 468.3 C512 470.8 511 478.1 510.2 480.3 C509.4 482.5 507.6 481.4 507.1 481.6" fill="none" stroke="#222" stroke-width="0.9" />
<path d="M502 468.3 L509 468.3 L508.3 476.5 L501.4 474" fill="none" stroke="#222" stroke-width="0.78" />
<path d="M493.5 476 L499.5 479.5 L506 481.5" fill="none" stroke="#222" stroke-width="0.78" />
<path d="M498.9 452 C499.4 452.7 501.1 454.5 502 456.4 C502.9 458.3 504.2 462.1 504.6 463.3" fill="none" stroke="#222" stroke-width="0.67" />
<path d="M510.2 455.7 C510.1 456.4 510.1 458.9 509.6 460.2 C509.1 461.5 507.5 462.8 507.1 463.3" fill="none" stroke="#222" stroke-width="0.67" />
<path d="M500.4 475.4 L495 472.6" fill="none" stroke="#111" stroke-width="1.9" />
<path d="M497.2 470.2 L493.3 471.8 L495.2 475.6Z" fill="#111" stroke="#111" stroke-width="1.57" />
<path d="M506.4 479.4 L501.4 476.8" fill="none" stroke="#111" stroke-width="1.9" />
<path d="M503.6 474.4 L499.7 476 L501.6 479.8Z" fill="#111" stroke="#111" stroke-width="1.57" />
<rect x="348.2" y="447.9" width="19.6" height="13.6" fill="none" stroke="#777" stroke-width="0.7"/>
<rect x="350.2" y="453.4" width="9.6" height="3.2" fill="#2a2a2a"/>
<path d="M356.8 450.6 L362.4 455 L356.8 459.6" fill="none" stroke="#111" stroke-width="2.58" stroke-linejoin="miter" stroke-linecap="butt"/>
<rect x="348.2" y="473.8" width="19.6" height="13.6" fill="none" stroke="#888" stroke-width="0.7"/>
<circle cx="350.3" cy="480.8" r="1.7" fill="none" stroke="#777" stroke-width="0.5"/>
<circle cx="355.2" cy="480.8" r="1.7" fill="none" stroke="#777" stroke-width="0.5"/>
<circle cx="359.2" cy="480.8" r="1.5" fill="none" stroke="#777" stroke-width="0.5"/>
<circle cx="362" cy="476.4" r="1.8" fill="none" stroke="#777" stroke-width="0.5"/>
<circle cx="364.2" cy="480.8" r="2" fill="none" stroke="#777" stroke-width="0.5"/>
<circle cx="362" cy="485" r="1.8" fill="none" stroke="#777" stroke-width="0.5"/>
<circle cx="366.2" cy="476.6" r="1.3" fill="none" stroke="#777" stroke-width="0.5"/>
<circle cx="366.4" cy="485" r="1.2" fill="none" stroke="#777" stroke-width="0.5"/>
<path d="M348.5 477 L360 477" fill="none" stroke="#999" stroke-width="0.45" />
<path d="M348.5 484.6 L360 484.6" fill="none" stroke="#999" stroke-width="0.45" />
</svg>
<svg width="635" height="821" viewBox="0 0 635 821">
<defs>
<g id="warn">
<path d="M59.1 1.3 L69.9 19.3 L48.3 19.3 Z" fill="none" stroke="#111" stroke-width="1.25" stroke-linejoin="miter"/>
<path d="M57.3 7.2 Q59.1 5.4 60.9 7.2 L59.8 15.2 L58.4 15.2 Z" fill="#111"/>
<ellipse cx="59.1" cy="17.4" rx="1.35" ry="1.5" fill="#111"/>
</g>
</defs>
<use href="#warn" x="0" y="60.5"/>
<use href="#warn" x="0.1" y="142.4"/>
</svg>

</body></html>
